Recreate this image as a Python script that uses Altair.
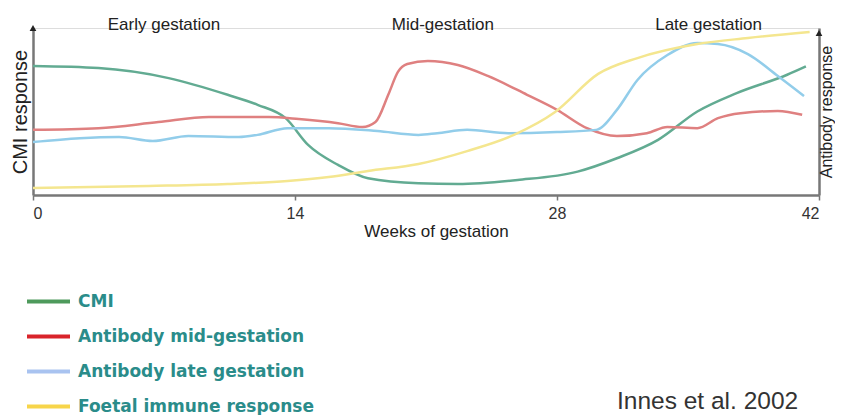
import altair as alt
import pandas as pd

# ---- data (weeks of gestation, relative response 0-100) ----
cmi_weeks = [0, 3.5, 7.25, 10.4, 12, 13.5, 14.7, 16.3, 17.9, 20.6, 22.7, 25.9, 29.1, 31.2, 33.4, 35.5, 37.6, 40.3, 41.3]
cmi_vals = [77.2, 76, 70, 60, 54, 46, 30, 18, 10, 7, 6.6, 9, 14, 22, 33, 50, 61, 72, 77]

mid_weeks = [0, 3.5, 6.7, 9.4, 12.6, 14.2, 16.3, 17.6, 18.3, 19, 19.5, 20, 21.1, 22.7, 24.3, 26.4, 28.0, 29.6, 31.2, 32.8, 33.9, 35.5, 36.6, 37.8, 39.8, 41.1]
mid_vals = [39, 40, 43.7, 46.7, 46.7, 45.5, 43, 40.7, 43.7, 60.5, 73.7, 78.4, 80.2, 77.8, 71.3, 60, 51, 40, 35.3, 37, 40.7, 40, 46, 49, 50.3, 48]

late_weeks = [0, 2.5, 4.6, 6.4, 8.3, 11, 12, 13.6, 15.8, 18.4, 20.6, 21.6, 23.2, 25.4, 28, 30.1, 31.2, 32.3, 33.9, 35.5, 36.6, 38.2, 39.8, 41.2]
late_vals = [31.7, 34, 34.7, 32.3, 35.3, 34.7, 36, 40, 40, 38.3, 36, 37, 39, 37, 37.7, 39, 51, 68.9, 83.8, 91, 90.4, 84.4, 71.3, 59.3]

foetal_weeks = [0, 6.2, 10.4, 13.6, 15.8, 17.9, 20.6, 23.2, 25.7, 27.9, 30.2, 32.3, 35.5, 38.2, 41.5]
foetal_vals = [4.2, 5.4, 6.6, 8.4, 10.8, 14.4, 18.6, 26.3, 36, 49.7, 72.5, 82, 90.4, 94, 97.6]

series_names = ["CMI", "Antibody mid-gestation", "Antibody late gestation", "Foetal immune response"]
line_colors = ["#62ab92", "#df8080", "#92cdea", "#f4e68f"]
legend_colors = ["#4e9a5c", "#d9242b", "#a9c3f0", "#f7d54a"]

x_ticks = [0, 14, 28, 42]
stage_names = ["Early gestation", "Mid-gestation", "Late gestation"]
stage_weeks = [7.0, 21.9, 36.1]

# ---- tables ----
rows = []
for name, wk, vals in zip(series_names,
                          [cmi_weeks, mid_weeks, late_weeks, foetal_weeks],
                          [cmi_vals, mid_vals, late_vals, foetal_vals]):
    for w, v in zip(wk, vals):
        rows.append({"series": name, "week": w, "value": v})
df = pd.DataFrame(rows)

stages = pd.DataFrame({"stage": stage_names, "week": stage_weeks})
arrows = pd.DataFrame({"week": [0, 42], "value": [100, 97]})

FONT = "Liberation Sans"
xscale = alt.Scale(domain=[0, 42], nice=False, zero=False)
yscale = alt.Scale(domain=[0, 100], nice=False)

x_enc = alt.X("week:Q", scale=xscale,
              axis=alt.Axis(values=x_ticks, title="Weeks of gestation", grid=False,
                            domainColor="#777", domainWidth=2.5, tickColor="#777",
                            tickSize=5, tickWidth=1.5, labelFontSize=16, labelColor="#333",
                            labelFont=FONT, labelPadding=5, titleFont=FONT, titleFontSize=17,
                            titleFontWeight="normal", titleColor="#222", titlePadding=2,
                            titleX=403, titleAlign="center"))

lines = alt.Chart(df).mark_line(strokeWidth=2.5, interpolate="monotone").encode(
    x=x_enc,
    y=alt.Y("value:Q", scale=yscale,
            axis=alt.Axis(title="CMI response", labels=False, ticks=False, grid=False,
                          domainColor="#777", domainWidth=2.5, titleFont=FONT,
                          titleFontSize=20, titleFontWeight="normal", titleColor="#222",
                          titlePadding=3)),
    color=alt.Color("series:N", scale=alt.Scale(domain=series_names, range=line_colors), legend=None),
)

legend_layer = alt.Chart(df).mark_line(opacity=0).encode(
    x=alt.X("week:Q", scale=xscale),
    y=alt.Y("value:Q", scale=yscale, axis=None),
    color=alt.Color("series:N", sort=series_names,
                    scale=alt.Scale(domain=series_names, range=legend_colors),
                    legend=alt.Legend(title=None, orient="none", legendX=-8, legendY=256,
                                      symbolType="stroke", symbolSize=1849,
                                      symbolStrokeWidth=4, symbolOpacity=1,
                                      clipHeight=35, rowPadding=0,
                                      labelFontSize=17, labelFont="DejaVu Sans",
                                      labelFontWeight="bold", labelColor="#2a8c8a",
                                      labelOffset=6, labelLimit=600)),
)

right_axis = alt.Chart(arrows).mark_point(shape="triangle-up", filled=True, size=45,
                                          color="#222", opacity=1).encode(
    x=alt.X("week:Q", scale=xscale),
    y=alt.Y("value:Q", scale=yscale,
            axis=alt.Axis(orient="right", title="Antibody response", labels=False,
                          ticks=False, grid=False, domainColor="#777", domainWidth=2.5,
                          titleFont=FONT, titleFontSize=16, titleFontWeight="normal",
                          titleColor="#222", titlePadding=15, titleAngle=-90)),
)

stage_text = alt.Chart(stages).mark_text(font=FONT, fontSize=17, color="#222",
                                         baseline="middle").encode(
    x=alt.X("week:Q", scale=xscale),
    y=alt.value(-3),
    text="stage:N",
)

cite = alt.Chart(pd.DataFrame({"t": ["Innes et al. 2002"]})).mark_text(
    font=FONT, fontSize=24.5, color="#333", align="left", baseline="middle").encode(
    x=alt.value(584), y=alt.value(374), text="t:N")

chart = alt.layer(lines, legend_layer, right_axis, stage_text, cite).resolve_scale(
    y="independent", color="independent"
).properties(
    width=786, height=167,
    autosize=alt.AutoSizeParams(type="none"),
    padding={"left": 25, "top": 20, "right": 16, "bottom": 220},
).configure_view(stroke=None).configure(background="white")

chart.save("out.html", embed_options={"renderer": "svg", "actions": False})
